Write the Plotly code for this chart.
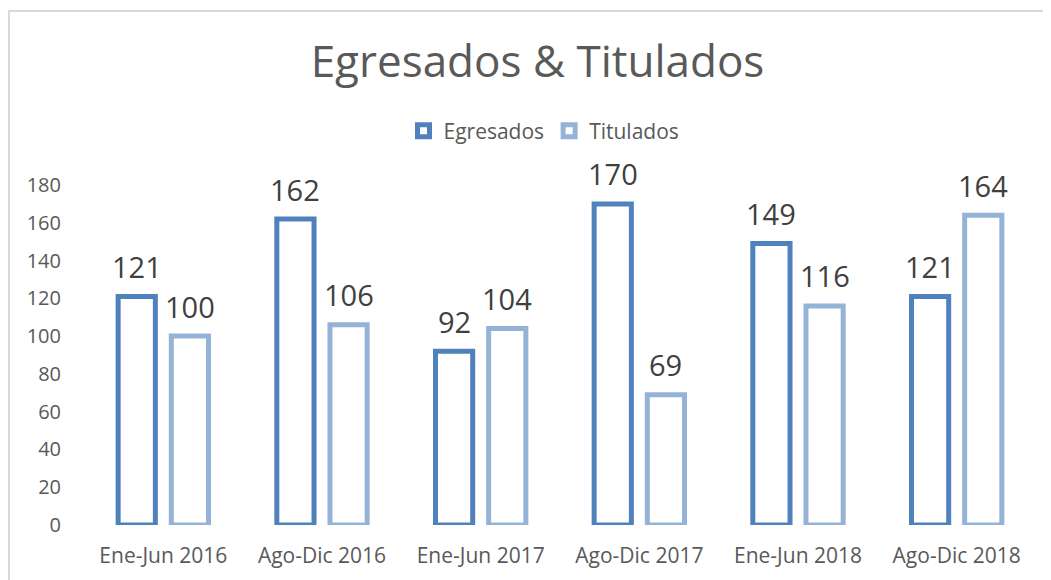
import plotly.graph_objects as go

categories = ["Ene-Jun 2016", "Ago-Dic 2016", "Ene-Jun 2017", "Ago-Dic 2017", "Ene-Jun 2018", "Ago-Dic 2018"]
egresados = [121, 162, 92, 170, 149, 121]
titulados = [100, 106, 104, 69, 116, 164]
y_ticks = [0, 20, 40, 60, 80, 100, 120, 140, 160, 180]

FONT = "Open Sans"
W, H = 1051, 580
OFF = 8  # page body margin
ML, MR, MT, MB = 76, 23, 177, 63
pw = W - ML - MR
ph = H - MT - MB
BARGAP, BGG = 0.33, 0.30
slot_px = pw / len(categories) * (1 - BARGAP) / 2

fig = go.Figure()
series = [("Egresados", egresados, "#4F81BD", -1), ("Titulados", titulados, "#95B3D7", 1)]
for name, vals, col, side in series:
    fig.add_trace(go.Bar(
        name=name, x=categories, y=vals,
        marker=dict(color="white", line=dict(color=col, width=5)),
    ))
    for c, v in zip(categories, vals):
        fig.add_annotation(x=c, y=v, text=str(v), showarrow=False,
                           xshift=side * slot_px / 2, yshift=30, yanchor="middle",
                           font=dict(family=FONT, size=29, color="#404040"))

fig.add_shape(type="rect", xref="paper", yref="paper",
              x0=(1 - ML) / pw, x1=(W + 30 - ML) / pw,
              y0=-(MB + 40) / ph, y1=(H - MB - 3) / ph,
              line=dict(color="#D9D9D9", width=2), fillcolor="rgba(0,0,0,0)", layer="below")

fig.update_layout(
    width=W, height=H,
    margin=dict(l=ML, r=MR, t=MT, b=MB, autoexpand=False),
    paper_bgcolor="white", plot_bgcolor="white",
    barmode="group", bargap=BARGAP, bargroupgap=BGG,
    title=dict(text="Egresados & Titulados", x=(537.5 - OFF) / W, xref="container", xanchor="center",
               y=(H - (62 - OFF)) / H, yanchor="middle",
               font=dict(family=FONT, size=44, color="#595959")),
    legend=dict(orientation="h", x=(544 - OFF - ML) / pw, xanchor="center", xref="paper",
                y=(H - MB - (131 - OFF)) / ph, yref="paper", yanchor="middle",
                font=dict(family=FONT, size=21, color="#595959"),
                bgcolor="rgba(0,0,0,0)", itemwidth=30, tracegroupgap=0),
    showlegend=True,
)
fig.update_xaxes(showgrid=False, showline=False, zeroline=False, ticks="",
                 tickfont=dict(family=FONT, size=21, color="#595959"),
                 ticklabelstandoff=16, tickangle=0)
fig.update_yaxes(range=[0, 180], tickvals=y_ticks, showgrid=False, showline=False,
                 zeroline=False, ticks="",
                 tickfont=dict(family=FONT, size=20, color="#595959"),
                 ticklabelstandoff=22)

fig.write_html("out.html")
